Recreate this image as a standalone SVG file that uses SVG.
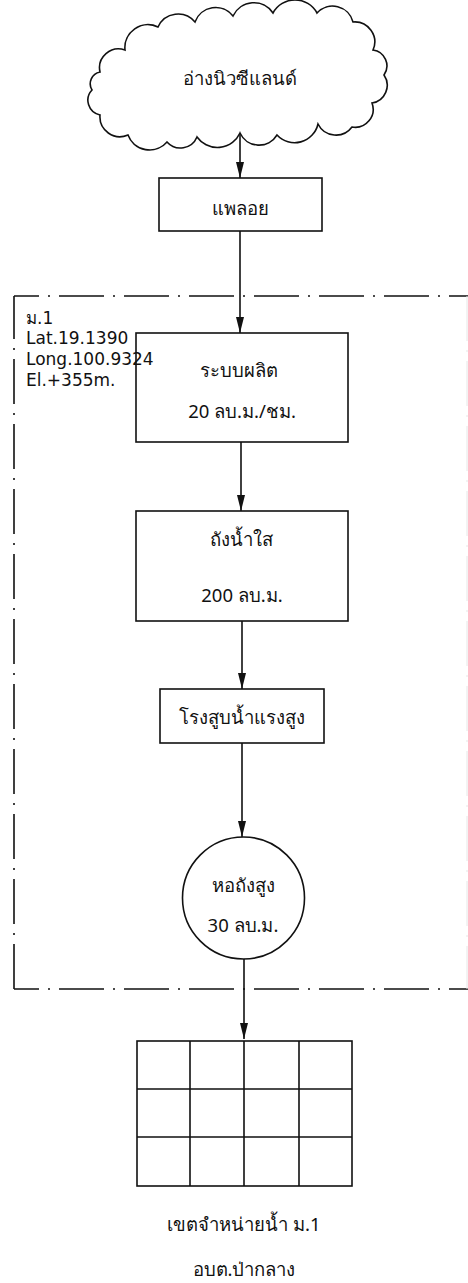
<svg xmlns="http://www.w3.org/2000/svg" width="468" height="1283" viewBox="0 0 468 1283">
<style>
.s{fill:none;stroke:#111;stroke-width:1.6}
.b{fill:none;stroke:#111;stroke-width:1.6}
.c{fill:#fff;stroke:#111;stroke-width:1.6}
.t{font-family:"Noto Sans","DejaVu Sans",sans-serif;font-size:18.5px;fill:#111;text-anchor:middle}
.l{font-family:"DejaVu Sans","Noto Sans",sans-serif;font-size:17px;fill:#111}
.dd{fill:none;stroke:#111;stroke-width:1.6;stroke-dasharray:45 9 2 9}
</style>
<defs>
<marker id="ah" viewBox="0 0 16 8" refX="16" refY="4" markerWidth="16" markerHeight="8" markerUnits="userSpaceOnUse" orient="auto">
<path d="M0,0 L16,4 L0,8 Z" fill="#111"/>
</marker>
</defs>
<rect width="468" height="1283" fill="#fff"/>
<g id="connectors">
<path class="s" d="M240,134 V178" marker-end="url(#ah)"/>
<path class="s" d="M240,231 V333" marker-end="url(#ah)"/>
<path class="s" d="M241,442 V511" marker-end="url(#ah)"/>
<path class="s" d="M242,621 V689" marker-end="url(#ah)"/>
<path class="s" d="M242,743 V837" marker-end="url(#ah)"/>
<path class="s" d="M244,959 V1039" marker-end="url(#ah)"/>
</g>
<g id="cloud">
<path class="c" d="M100,72 A19,19 0 0 1 125,50 A23,23 0 0 1 158,27 A22,22 0 0 1 195,22 A22,22 0 0 1 233,16 A23,23 0 0 1 273,13 A25,25 0 0 1 317,13 A21,21 0 0 1 353,22 A20,20 0 0 1 373,50 A16,16 0 0 1 384,75 A18,18 0 0 1 372,103 A18,18 0 0 1 352,127 A20,20 0 0 1 318,124 A24,24 0 0 1 277,135 A21,21 0 0 1 240,133 A25,25 0 0 1 197,137 A18,18 0 0 1 167,142 A23,23 0 0 1 128,135 A20,20 0 0 1 100,115 A15,15 0 0 1 92,90 A12,12 0 0 1 100,72 Z"/>
<text class="t" x="240" y="85">อ่างนิวซีแลนด์</text>
</g>
<g id="plaloi">
<rect class="b" x="159" y="178" width="163" height="53"/>
<text class="t" x="240" y="215">แพลอย</text>
</g>
<g id="production">
<rect class="b" x="136" y="333" width="212" height="109"/>
<text class="t" x="239" y="377">ระบบผลิต</text>
<text class="t" x="242" y="418">20 ลบ.ม./ชม.</text>
</g>
<g id="clearwater">
<rect class="b" x="136" y="511" width="212" height="110"/>
<text class="t" x="241" y="546">ถังน้ำใส</text>
<text class="t" x="242" y="602">200 ลบ.ม.</text>
</g>
<g id="pumping">
<rect class="b" x="160" y="689" width="164" height="54"/>
<text class="t" x="242" y="724">โรงสูบน้ำแรงสูง</text>
</g>
<g id="tower">
<circle class="b" cx="243.5" cy="898" r="61"/>
<text class="t" x="243" y="892">หอถังสูง</text>
<text class="t" x="243" y="932">30 ลบ.ม.</text>
</g>
<g id="distribution">
<rect class="b" x="137" y="1041" width="215" height="145"/>
<path class="s" d="M190,1041 V1186 M244,1041 V1186 M299,1041 V1186 M137,1089 H352 M137,1137 H352"/>
<text class="t" x="244" y="1231">เขตจำหน่ายน้ำ ม.1</text>
<text class="t" x="244" y="1276">อบต.ป่ากลาง</text>
</g>
<g id="boundary">
<path class="dd" d="M14,296 H468" stroke-dashoffset="20"/>
<path class="dd" d="M14,296 V989" stroke-dashoffset="2"/>
<path class="dd" d="M14,989 H468" stroke-dashoffset="20"/>
<path d="M467,296 V989" fill="none" stroke="#e6e6e6" stroke-width="1" stroke-dasharray="45 9 2 9"/>
<text class="l" x="26" y="324">ม.1</text>
<text class="l" x="26" y="344">Lat.19.1390</text>
<text class="l" x="26" y="365">Long.100.9324</text>
<text class="l" x="26" y="386">El.+355m.</text>
</g>
</svg>
